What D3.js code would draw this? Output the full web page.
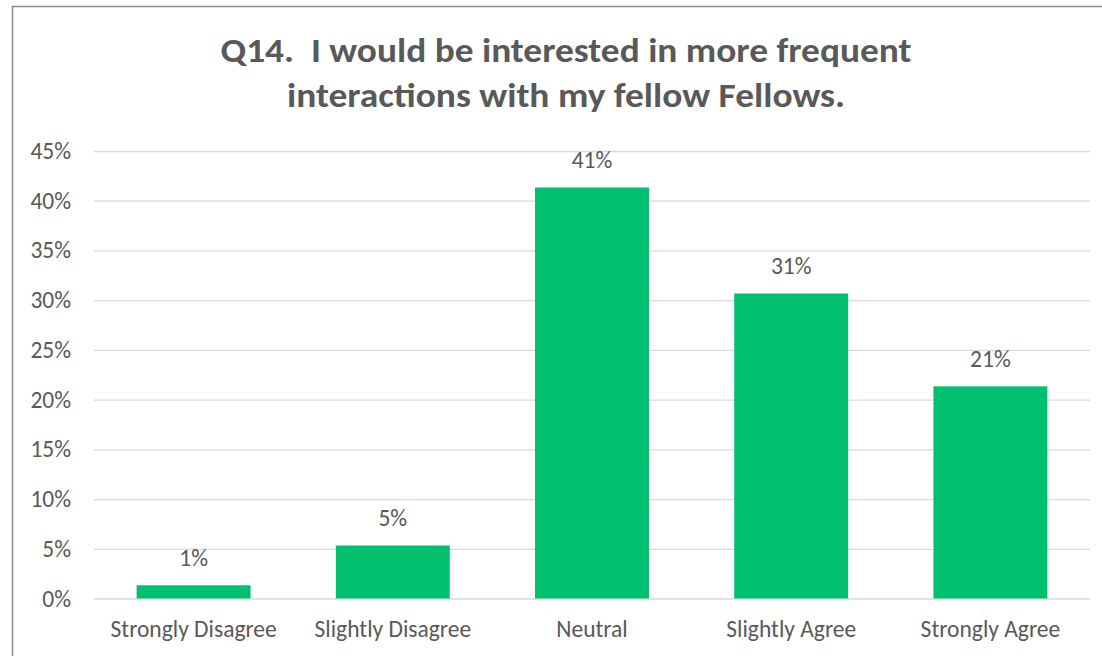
<!DOCTYPE html>
<html>
<head>
<meta charset="utf-8">
<script src="https://cdn.jsdelivr.net/npm/d3@7"></script>
<style>
  html, body { margin: 0; padding: 0; background: #fff; }
  svg { display: block; }
  text { font-family: Carlito, Calibri, "Open Sans", sans-serif; fill: #595959; }
</style>
</head>
<body>
<svg id="chart" width="1102" height="656"></svg>
<script>
// Survey responses (share of respondents)
const categories = ["Strongly Disagree", "Slightly Disagree", "Neutral", "Slightly Agree", "Strongly Agree"];
const shares = [0.0133, 0.0533, 0.4133, 0.3067, 0.2133];
const tickValues = [0, 0.05, 0.10, 0.15, 0.20, 0.25, 0.30, 0.35, 0.40, 0.45];
const titleLines = ["Q14.  I would be interested in more frequent", "interactions with my fellow Fellows."];
const titleWidths = [691, 558];

const W = 1102, H = 656;
const margin = { top: 151, right: 12, bottom: 57.5, left: 94 };
const labelSize = 23.5;
const fontStack = "Carlito, Calibri, 'Open Sans', sans-serif";
const svg = d3.select("#chart");

// outer chart frame
svg.append("rect")
  .attr("x", 12.5).attr("y", 6.5)
  .attr("width", W).attr("height", H)
  .attr("fill", "none").attr("stroke", "#8c8c8c").attr("stroke-width", 1.5);

const x = d3.scaleBand()
  .domain(categories)
  .range([margin.left, W - margin.right])
  .paddingInner(0.428)
  .paddingOuter(0.214);

const y = d3.scaleLinear()
  .domain([0, 0.45])
  .range([H - margin.bottom, margin.top]);

// horizontal gridlines + tick labels
const yAxis = d3.axisLeft(y)
  .tickValues(tickValues)
  .tickFormat(d3.format(".0%"))
  .tickSize(-(W - margin.right - margin.left))
  .tickPadding(23);

const gy = svg.append("g")
  .attr("transform", `translate(${margin.left},0)`)
  .call(yAxis);
gy.select(".domain").remove();
gy.selectAll(".tick line").attr("stroke", "#d9d9d9").attr("stroke-width", 1.3);
gy.selectAll(".tick text")
  .attr("font-size", labelSize)
  .attr("font-family", fontStack)
  .style("fill", "#595959");

// bars
svg.append("g").selectAll("rect")
  .data(shares)
  .join("rect")
  .attr("x", (d, i) => x(categories[i]))
  .attr("width", x.bandwidth())
  .attr("y", d => y(d))
  .attr("height", d => y(0) - y(d))
  .attr("fill", "#00bf6f");

// value labels
svg.append("g").selectAll("text")
  .data(shares)
  .join("text")
  .attr("x", (d, i) => x(categories[i]) + x.bandwidth() / 2)
  .attr("y", d => y(d) - 19.5)
  .attr("text-anchor", "middle")
  .attr("font-size", labelSize)
  .text(d => d3.format(".0%")(d));

// category axis
const xAxis = d3.axisBottom(x).tickSize(0).tickPadding(21.5);
const gx = svg.append("g")
  .attr("transform", `translate(0,${y(0)})`)
  .call(xAxis);
gx.select(".domain").remove();
gx.selectAll(".tick text")
  .attr("font-size", labelSize)
  .attr("font-family", fontStack)
  .style("fill", "#595959");

// title
svg.append("g").selectAll("text")
  .data(titleLines)
  .join("text")
  .attr("x", 566)
  .attr("y", (d, i) => 62 + i * 45.3)
  .attr("text-anchor", "middle")
  .attr("font-size", 34)
  .attr("font-weight", "bold")
  .attr("xml:space", "preserve")
  .style("white-space", "pre")
  .attr("textLength", (d, i) => titleWidths[i])
  .attr("lengthAdjust", "spacingAndGlyphs")
  .text(d => d);
</script>
</body>
</html>
